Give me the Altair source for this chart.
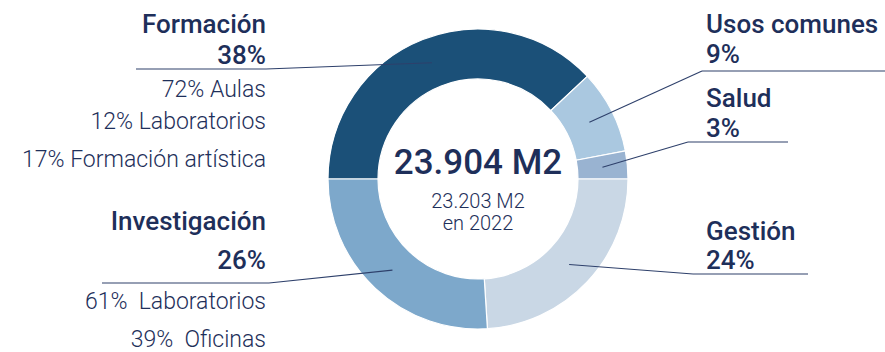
import math

import altair as alt
import pandas as pd

# Distribución de la superficie por uso
categorias = ["Formación", "Usos comunes", "Salud", "Gestión", "Investigación"]
porcentajes = [38, 9, 3, 24, 26]
colores = ["#1B5078", "#AAC8E0", "#99B3D1", "#C9D7E5", "#7DA8CB"]

desglose_formacion = ["72% Aulas", "12% Laboratorios", "17% Formación artística"]
desglose_investigacion = ["61%\u00a0 Laboratorios", "39%\u00a0 Oficinas"]

superficie_total = "23.904 M2"
superficie_anterior = "23.203 M2"
anio_anterior = "en 2022"

# ---- layout ----
W, H = 885, 352
CX, CY = 478, 179          # centro del anillo
R_IN, R_OUT = 100, 150     # radios del anillo
R_GUIA = 125               # radio donde arrancan las líneas guía
FUENTE = "Roboto"
AZUL_TEXTO = "#1E2F5A"
AZUL_LINEA = "#2E406B"

# posición de cada etiqueta: alineación, x del texto, líneas base, subrayado
etiquetas = {
    "Formación": dict(align="right", x=266, y_tit=33, y_pct=64, y_lin=69, x0=136, x1=266,
                      sub=desglose_formacion, sub_y=[97, 129, 167]),
    "Usos comunes": dict(align="left", x=706, y_tit=33, y_pct=63, y_lin=71, x0=702, x1=885),
    "Salud": dict(align="left", x=706, y_tit=107, y_pct=137, y_lin=142, x0=688, x1=788),
    "Gestión": dict(align="left", x=706, y_tit=240, y_pct=269, y_lin=274, x0=693, x1=808),
    "Investigación": dict(align="right", x=266, y_tit=230, y_pct=269, y_lin=283, x0=102, x1=269,
                          sub=desglose_investigacion, sub_y=[309, 347]),
}

# ---- tablas ----
sectores = pd.DataFrame({
    "categoria": categorias,
    "porcentaje": porcentajes,
    "orden": list(range(len(categorias))),
})

titulos, cifras, subtextos, segmentos = [], [], [], []
total = sum(porcentajes)
acumulado = 0.0
for cat, pct in zip(categorias, porcentajes):
    medio = acumulado + pct / 2.0
    acumulado += pct
    ang = math.radians(-90 + medio / total * 360)
    gx = CX + R_GUIA * math.sin(ang)
    gy = CY - R_GUIA * math.cos(ang)

    e = etiquetas[cat]
    titulos.append(dict(x=e["x"], y=e["y_tit"], texto=cat, align=e["align"]))
    cifras.append(dict(x=e["x"], y=e["y_pct"], texto=f"{pct}%", align=e["align"]))
    for t, yy in zip(e.get("sub", []), e.get("sub_y", [])):
        subtextos.append(dict(x=e["x"], y=yy, texto=t, align=e["align"]))

    # subrayado + tramo inclinado hasta el sector
    segmentos.append(dict(x=e["x0"], y=e["y_lin"], x2=e["x1"], y2=e["y_lin"]))
    ancla = e["x1"] if e["align"] == "right" else e["x0"]
    segmentos.append(dict(x=ancla, y=e["y_lin"], x2=gx, y2=gy))

titulos = pd.DataFrame(titulos)
cifras = pd.DataFrame(cifras)
subtextos = pd.DataFrame(subtextos)
segmentos = pd.DataFrame(segmentos)
centro = pd.DataFrame([
    dict(x=CX, y=174, texto=superficie_total, tipo="total"),
    dict(x=CX, y=208, texto=superficie_anterior, tipo="previo"),
    dict(x=CX, y=230, texto=anio_anterior, tipo="previo"),
])

sx = alt.Scale(domain=[0, W], nice=False, zero=False)
sy = alt.Scale(domain=[0, H], nice=False, zero=False, reverse=True)
X = lambda f="x": alt.X(f"{f}:Q", scale=sx, axis=None)
Y = lambda f="y": alt.Y(f"{f}:Q", scale=sy, axis=None)

anillo = alt.Chart(sectores).mark_arc(
    innerRadius=R_IN, outerRadius=R_OUT, stroke="white", strokeWidth=1.2
).encode(
    theta=alt.Theta("porcentaje:Q", stack=True,
                    scale=alt.Scale(range=[-math.pi / 2, 1.5 * math.pi])),
    color=alt.Color("categoria:N", scale=alt.Scale(domain=categorias, range=colores), legend=None),
    order=alt.Order("orden:Q"),
    x=alt.value(CX),
    y=alt.value(CY),
)

lineas = alt.Chart(segmentos).mark_rule(color=AZUL_LINEA, strokeWidth=1.1).encode(
    x=X(), y=Y(), x2="x2:Q", y2="y2:Q"
)


def capa_texto(df, align, size, weight):
    sel = df[df["align"] == align]
    return alt.Chart(sel).mark_text(
        align=align, baseline="alphabetic", font=FUENTE, fontSize=size,
        fontWeight=weight, color=AZUL_TEXTO
    ).encode(x=X(), y=Y(), text="texto:N")


capas_texto = []
for lado in ["left", "right"]:
    capas_texto.append(capa_texto(titulos, lado, 26, 500))
    capas_texto.append(capa_texto(cifras, lado, 26, 500))
capas_texto.append(capa_texto(subtextos, "right", 23, 300))

texto_total = alt.Chart(centro[centro["tipo"] == "total"]).mark_text(
    align="center", baseline="alphabetic", font=FUENTE, fontSize=35,
    fontWeight=500, color=AZUL_TEXTO
).encode(x=X(), y=Y(), text="texto:N")

texto_previo = alt.Chart(centro[centro["tipo"] == "previo"]).mark_text(
    align="center", baseline="alphabetic", font=FUENTE, fontSize=20,
    fontWeight=300, color=AZUL_TEXTO
).encode(x=X(), y=Y(), text="texto:N")

chart = alt.layer(
    anillo, lineas, *capas_texto, texto_total, texto_previo
).properties(
    width=W, height=H, autosize=alt.AutoSizeParams(type="none"), padding=0,
    background="white"
).configure_view(stroke=None)

chart.save("out.html", embed_options={"renderer": "svg", "actions": False})
